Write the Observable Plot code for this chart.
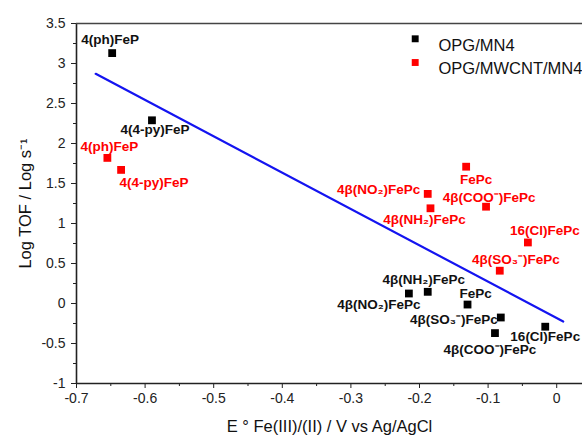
<!DOCTYPE html>
<html>
<head>
<meta charset="utf-8">
<script src="https://cdn.jsdelivr.net/npm/d3@7"></script>
<script src="https://cdn.jsdelivr.net/npm/@observablehq/plot@0.6"></script>
<style>
  html, body { margin: 0; padding: 0; background: #fff; }
  #chart svg { display: block; }
  #chart g[aria-label="x-axis label"] text,
  #chart g[aria-label="y-axis label"] text { font-size: 16.5px; fill: #111; }
</style>
</head>
<body>
<div id="chart"></div>
<script>
// OPG/MN4 electrodes: formal potential vs log turnover frequency
const blackNames = ["4(ph)FeP", "4(4-py)FeP", "4β(NO₂)FePc", "4β(NH₂)FePc", "FePc", "4β(SO₃⁻)FePc", "4β(COO⁻)FePc", "16(Cl)FePc"];
const blackE     = [-0.648, -0.590, -0.2155, -0.188, -0.130, -0.0815, -0.090, -0.0167];
const blackTOF   = [3.13, 2.29, 0.125, 0.146, -0.013, -0.175, -0.37, -0.29];

// OPG/MWCNT/MN4 electrodes
const redNames = ["4(ph)FeP", "4(4-py)FeP", "FePc", "4β(NO₂)FePc", "4β(COO⁻)FePc", "4β(NH₂)FePc", "16(Cl)FePc", "4β(SO₃⁻)FePc"];
const redE     = [-0.655, -0.635, -0.132, -0.188, -0.103, -0.184, -0.042, -0.083];
const redTOF   = [1.82, 1.67, 1.71, 1.37, 1.21, 1.19, 0.763, 0.41];

// Linear fit drawn across the data
const fitE   = [-0.672, 0.0095];
const fitTOF = [2.871, -0.225];

const xTicks = [-0.7, -0.6, -0.5, -0.4, -0.3, -0.2, -0.1, 0];
const yTicks = [-1, -0.5, 0, 0.5, 1, 1.5, 2, 2.5, 3, 3.5];

const seriesNames = ["OPG/MN4", "OPG/MWCNT/MN4"];
const seriesColors = ["#000000", "#ff0000"];

// Label placement offsets (pixels) for each point label
const blackLabelOffset = [[-2, -13], [3, 9], [-30, 11], [-4, -12], [8, -11], [-47, 2], [-5, 17], [0, 10]];
const redLabelOffset   = [[2, -11], [33, 13], [10, 13], [-49, -4], [3, -9], [-6, 11], [17, -12], [16, -11]];

const black = blackNames.map((n, i) => ({name: n, E: blackE[i], tof: blackTOF[i]}));
const red = redNames.map((n, i) => ({name: n, E: redE[i], tof: redTOF[i]}));
const fit = fitE.map((e, i) => ({E: e, tof: fitTOF[i]}));

const font = "Liberation Sans, Arial, Helvetica, sans-serif";
const minorX = d3.range(-0.65, 0.04, 0.1).map(v => +v.toFixed(2));
const minorY = d3.range(-0.75, 3.5, 0.5).map(v => +v.toFixed(2));
const fmt = d => String(d);
const blank = () => "";

function labels(rows, offsets, color) {
  return rows.map((r, i) => Plot.text([r], {
    x: "E", y: "tof", text: "name",
    dx: offsets[i][0], dy: offsets[i][1],
    fill: color, fontWeight: "bold", fontSize: 13.5
  }));
}

const chart = Plot.plot({
  width: 582,
  height: 437,
  marginLeft: 76,
  marginRight: 0,
  marginTop: 23,
  marginBottom: 54,
  style: {fontFamily: font, background: "#fff", color: "#222"},
  x: {domain: [-0.7, 0.0376]},
  y: {domain: [-1, 3.5]},
  marks: [
    // axes: major + minor ticks, pointing outward
    Plot.axisX({ticks: xTicks, tickFormat: fmt, tickSize: 5, tickPadding: 5, fontSize: 14,
      label: "E ° Fe(III)/(II) / V vs Ag/AgCl", labelAnchor: "center", labelArrow: "none", labelOffset: 48}),
    Plot.axisX({ticks: minorX, tickFormat: blank, tickSize: 3, label: null}),
    Plot.axisY({ticks: yTicks, tickFormat: fmt, tickSize: 5, tickPadding: 6, fontSize: 14,
      label: "Log TOF / Log s⁻¹", labelAnchor: "center", labelArrow: "none", labelOffset: 57}),
    Plot.axisY({ticks: minorY, tickFormat: blank, tickSize: 3, label: null}),
    Plot.ruleX([-0.7], {stroke: "#222", strokeWidth: 1.6}),
    Plot.ruleY([-1], {stroke: "#222", strokeWidth: 1.6}),
    Plot.ruleY([3.5], {stroke: "#444", strokeWidth: 1.6}),
    // regression line
    Plot.line(fit, {x: "E", y: "tof", stroke: "#1414f0", strokeWidth: 2.2}),
    // points
    Plot.dot(black, {x: "E", y: "tof", symbol: "square", r: 4.4, fill: seriesColors[0], stroke: "none"}),
    Plot.dot(red, {x: "E", y: "tof", symbol: "square", r: 4.4, fill: seriesColors[1], stroke: "none"}),
    ...labels(black, blackLabelOffset, "#111"),
    ...labels(red, redLabelOffset, seriesColors[1]),
    // legend
    ...seriesNames.map((name, i) => Plot.dot([name], {frameAnchor: "top-left", dx: 338.7, dy: 15.3 + i * 23.7,
      symbol: "square", r: 3.9, fill: seriesColors[i], stroke: "none"})),
    ...seriesNames.map((name, i) => Plot.text([name], {frameAnchor: "top-left", dx: 362, dy: 15.3 + i * 23.7,
      text: d => d, textAnchor: "start", fill: "#111", fontSize: 16.5}))
  ]
});

document.getElementById("chart").append(chart);
</script>
</body>
</html>
